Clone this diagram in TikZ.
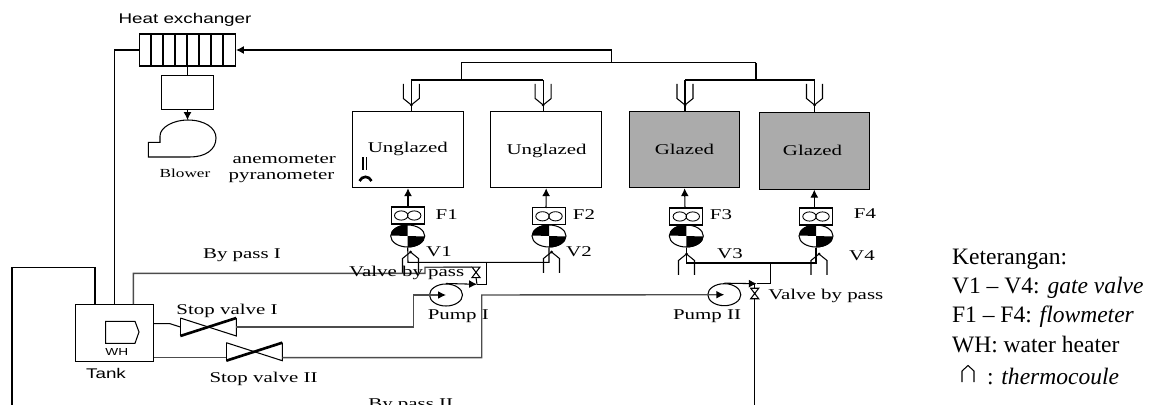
\documentclass[tikz,border=0pt]{standalone}
\usepackage{fontspec}
\setmainfont{Liberation Serif}
\newfontfamily\wideserif[FakeStretch=1.4]{Liberation Serif}
\newfontfamily\widesans[FakeStretch=1.34]{Liberation Sans}
\usetikzlibrary{calc,shapes.geometric,arrows.meta}
\tikzset{
  pipe/.style={line width=.6pt},
  greypipe/.style={line width=.8pt,draw=black!70},
  tip/.style={-{Latex[black,length=4.5pt,width=4.5pt]}},
  lbl/.style={font=\fontsize{8.5}{10}\selectfont\wideserif,inner sep=0pt,anchor=base},
  sanslbl/.style={font=\fontsize{8}{10}\selectfont\widesans,inner sep=0pt,anchor=base},
  legend/.style={font=\fontsize{13.4}{16}\selectfont,inner sep=0pt,anchor=base west},
  panel/.style={draw,line width=.6pt,minimum width=2.21cm,minimum height=1.53cm,inner sep=0pt},
  glazed/.style={panel,fill=black!33},
  flowbox/.style={draw,line width=.6pt,minimum width=.66cm,minimum height=.34cm,inner sep=0pt},
  gate/.style={draw,ellipse,line width=.6pt,minimum width=.68cm,minimum height=.44cm,inner sep=0pt},
  pump/.style={draw,ellipse,line width=.6pt,minimum width=.66cm,minimum height=.44cm,inner sep=0pt},
  stopbox/.style={minimum width=1.12cm,minimum height=.36cm,inner sep=0pt,outer sep=0pt},
  bybox/.style={minimum width=.16cm,minimum height=.21cm,inner sep=0pt,outer sep=0pt},
  thermo/.pic={
    \draw[pipe] (-8,-21) -- (-8,-6.5) -- (0,0) -- (8,-6.5) -- (8,-21);
    \fill (0,0) circle (1.5);
  }
}
\begin{document}
\begin{tikzpicture}[x=.02cm,y=-.02cm]
  \useasboundingbox (0,0) rectangle (1153,405);

  \node[draw,line width=.6pt,minimum width=1.92cm,minimum height=.64cm,inner sep=0pt] (HX) at (187.5,50) {};
  \foreach \i in {1,...,7}
    \draw[pipe] ($(HX.north west)+(\i*12,0)$) -- ($(HX.south west)+(\i*12,0)$);
  \node[sanslbl] (lblHX) at (185,24) {Heat exchanger};
  \node[draw,line width=.6pt,minimum width=1.04cm,minimum height=.69cm,inner sep=0pt] (duct) at (187.5,92.7) {};
  \coordinate (blowTop) at (187.5,120);
  \draw[pipe] (HX.south) -- (duct.north);
  \draw[pipe,tip] (duct.south) -- (blowTop);
  \draw[pipe] (160,142.3) -- (160,136) .. controls (160,127) and (174,120) .. (blowTop)
    .. controls (205,120) and (216,128) .. (216,138) .. controls (216,150) and (205,157) .. (190,157)
    -- (148.3,157) -- (148.3,142.3) -- cycle;
  \node[lbl,font=\fontsize{7}{9}\selectfont\wideserif] (lblBlower) at (185,177.7) {Blower};
  \node[lbl] (lblAnemo) at (284.2,164) {anemometer};
  \node[lbl] (lblPyra) at (281.5,179.3) {pyranometer};

  \node[panel] (C1) at (408,149.5) {};
  \node[panel] (C2) at (546.2,149.5) {};
  \node[glazed] (C3) at (684.6,149.5) {};
  \node[glazed] (C4) at (814.3,150.9) {};
  \node[lbl] (lblC1) at (407.8,153) {Unglazed};
  \node[lbl] (lblC2) at (546.6,154.5) {Unglazed};
  \node[lbl] (lblC3) at (684.4,154.5) {Glazed};
  \node[lbl] (lblC4) at (812.5,155.5) {Glazed};
  \draw[pipe] (363,157.4) -- (363,170.5) (366.9,157.4) -- (366.9,170.5);
  \draw[line width=1.5pt] (359.5,181) .. controls (362,175.5) and (369,175.5) .. (371.5,181);

  \coordinate (hdr) at (611.4,62.7);
  \coordinate (hdrL) at (461.2,62.7);
  \coordinate (hdrR) at (756,62.7);
  \coordinate (busL) at (461.2,80);
  \coordinate (busR) at (756,80);
  \draw[pipe,tip] (hdr) |- (HX.east);
  \draw[pipe] (hdrL) -- (hdrR);
  \draw[pipe] (hdrL) -- (busL) (hdrR) -- (busR);
  \foreach \n/\x/\a/\b in {1/411.3/C1/busL,2/543.2/C2/busL,3/685/C3/busR,4/814.5/C4/busR} {
    \coordinate (top\n) at (\x,80);
    \draw[pipe] (top\n) -- (top\n |- \a.north);
    \draw[pipe] (top\n) -- (\b);
    \pic at (\x,105) {thermo};
  }

  \foreach \n/\x/\y in {1/407.7/215.5,2/549/216.3,3/686.3/216.5,4/816/216.5} {
    \node[flowbox] (F\n) at (\x,\y) {};
    \draw[line width=.5pt] (F\n.center) ++(-6.5,0) ellipse (6.7 and 4.6);
    \draw[line width=.5pt] (F\n.center) ++(6.5,0) ellipse (6.7 and 4.6);
    \node[gate] (V\n) at (\x,236) {};
    \fill (V\n.center) -- (V\n.north) arc[start angle=90,end angle=180,x radius=.34cm,y radius=.22cm] -- cycle;
    \fill (V\n.center) -- (V\n.south) arc[start angle=270,end angle=360,x radius=.34cm,y radius=.22cm] -- cycle;
  }
  \draw[pipe,tip] (408,207) -- (C1.south);
  \draw[pipe,tip] (546,208) -- (C2.south);
  \draw[pipe,tip] (685,208) -- (C3.south);
  \draw[pipe,tip] (814.3,208) -- (C4.south);
  \node[lbl] (lblF1) at (446.7,220) {F1};
  \node[lbl] (lblF2) at (584,220) {F2};
  \node[lbl] (lblF3) at (721,220) {F3};
  \node[lbl] (lblF4) at (865,218.3) {F4};
  \node[lbl] (lblV1) at (439,256) {V1};
  \node[lbl] (lblV2) at (579,256) {V2};
  \node[lbl] (lblV3) at (730,259) {V3};
  \node[lbl] (lblV4) at (862,260.7) {V4};

  \pic[yscale=-1] at (410.5,252) {thermo};
  \pic[yscale=-1] at (551.5,252) {thermo};
  \pic[yscale=-1] at (686.5,254) {thermo};
  \pic[yscale=-1] at (819,254) {thermo};
  \coordinate (man1) at (408,262.3);
  \coordinate (man2) at (549,262.3);
  \coordinate (man3) at (686.3,263);
  \coordinate (man4) at (816,263);
  \draw[pipe] (V1.south) -- (man1) -- (man2) -- (V2.south);
  \draw[pipe] (V3.south) -- (man3) -- (man4) -- (V4.south);

  \node[draw,line width=.6pt,minimum width=1.56cm,minimum height=1.13cm,inner sep=0pt] (tank) at (114.5,332.8) {};
  \draw[pipe] (105.7,321.3) -- (135,321.3) .. controls (137,326) .. (139,332)
    .. controls (137,338) .. (135,343.3) -- (105.7,343.3) -- cycle;
  \node[sanslbl,font=\fontsize{5.8}{7}\selectfont\widesans] (lblWH) at (116.8,356) {WH};
  \node[sanslbl] (lblTank) at (106,378.3) {Tank};

  \node[pump] (P1) at (446,295) {};
  \node[pump] (P2) at (724.3,294.7) {};
  \node[bybox] (BV1) at (476,272.3) {};
  \node[bybox] (BV2) at (754.7,293.5) {};
  \foreach \n in {BV1,BV2}
    \draw[pipe] (\n.north west) -- (\n.north east) -- (\n.south west) -- (\n.south east) -- cycle;
  \node[stopbox] (SV1) at (208.3,327) {};
  \node[stopbox] (SV2) at (254.3,351.7) {};
  \foreach \n in {SV1,SV2} {
    \draw[pipe] (\n.north west) -- (\n.south east) -- (\n.north east);
    \draw[pipe] (\n.north west) -- (\n.south west);
    \draw[line width=1.5pt] (\n.south west) -- (\n.north east);
  }

  \draw[pipe] (HX.west) -| (tank.north);
  \coordinate (byTwoA) at (95,267.3);
  \coordinate (byTwoB) at (12,267.3);
  \coordinate (byTwoC) at (12,405);
  \draw[pipe] (tank.north -| byTwoA) -- (byTwoA) -- (byTwoB) -- (byTwoC);
  \coordinate (byOneA) at (133.3,273.3);
  \coordinate (byOneB) at (425,273.3);
  \coordinate (byOneC) at (425,267.3);
  \draw[greypipe] (tank.north -| byOneA) -- (byOneA) -- (byOneB) -- (byOneC) -- (BV1.north west);

  \coordinate (j1) at (486.7,284.3);
  \coordinate (a1) at (477,284.3);
  \draw[pipe,tip] (P1.north) -- (a1);
  \draw[pipe] (a1) -- (j1) -- (j1 |- man1);
  \draw[pipe] (BV1.south) -- (a1);

  \coordinate (j2) at (770.3,283.7);
  \coordinate (a2) at (756.7,283.7);
  \coordinate (byTwoEnd) at (754.7,405);
  \draw[pipe,tip] (P2.north) -- (a2);
  \draw[pipe] (a2) -- (j2) -- (j2 |- man3);
  \draw[pipe] (BV2.north) -- (BV2.north |- a2);
  \draw[pipe] (BV2.south) -- (byTwoEnd);

  \coordinate (sv1In) at (170,323.7);
  \coordinate (c1) at (413.3,295);
  \draw[pipe] (tank.east |- sv1In) -- (sv1In) -- (SV1.west);
  \draw[greypipe,tip] (SV1.east) -| (c1) -- (P1.center);
  \coordinate (sv2L) at (226.3,357.7);
  \coordinate (sv2R) at (282.3,357.7);
  \coordinate (c2) at (481.7,295);
  \draw[greypipe] (tank.east |- sv2L) -- (sv2L);
  \draw[greypipe,tip] (sv2R) -| (c2) -- (P2.center);

  \node[lbl] (lblByOne) at (242,258.3) {By pass I};
  \node[lbl] (lblByTwo) at (410.7,408) {By pass II};
  \node[lbl] (lblBV1) at (406.7,276.7) {Valve by pass};
  \node[lbl] (lblBV2) at (825.8,299) {Valve by pass};
  \node[lbl] (lblP1) at (458.3,319.3) {Pump I};
  \node[lbl] (lblP2) at (707,319.3) {Pump II};
  \node[lbl] (lblSV1) at (227,315) {Stop valve I};
  \node[lbl] (lblSV2) at (263.5,382.7) {Stop valve II};

  \node[legend] (key1) at (951.7,265) {Keterangan:};
  \node[legend] (key2) at (951.7,294) {V1 – V4: \textit{gate valve}};
  \node[legend] (key3) at (951.7,322.7) {F1 – F4: \textit{flowmeter}};
  \node[legend] (key4) at (951.7,352) {WH: water heater};
  \node[legend] (key5) at (986.7,384) {: \textit{thermocoule}};
  \draw[line width=.6pt] (962,382) -- (962,371) -- (968,365.5) -- (974,371) -- (974,382);
\end{tikzpicture}
\end{document}
